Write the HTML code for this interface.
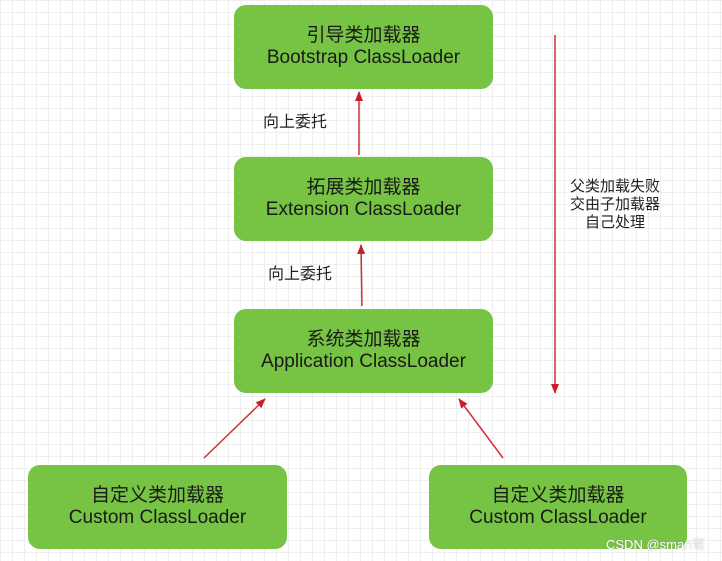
<!DOCTYPE html>
<html><head><meta charset="utf-8"><style>
body{margin:0;width:722px;height:561px;overflow:hidden;background:#fff;
background-image:linear-gradient(#eee 1px,transparent 1px),linear-gradient(90deg,#eee 1px,transparent 1px);background-size:12px 12px;
font-family:"Liberation Sans","Noto Sans CJK SC",sans-serif;position:relative}
.b{position:absolute;background:#77c343;border-radius:12px;display:flex;flex-direction:column;justify-content:center;align-items:center;font-size:19px;color:#1a1a1a;line-height:22px;text-align:center}
.t{position:absolute;font-size:16px;color:#222;line-height:18px}
</style></head><body>
<div class="b" style="left:234px;top:5px;width:259px;height:84px">引导类加载器<br>Bootstrap ClassLoader</div>
<div class="b" style="left:234px;top:157px;width:259px;height:84px">拓展类加载器<br>Extension ClassLoader</div>
<div class="b" style="left:234px;top:309px;width:259px;height:84px">系统类加载器<br>Application ClassLoader</div>
<div class="b" style="left:28px;top:465px;width:259px;height:84px">自定义类加载器<br>Custom ClassLoader</div>
<div class="b" style="left:429px;top:465px;width:258px;height:84px">自定义类加载器<br>Custom ClassLoader</div>
<div class="t" style="left:263px;top:114px">向上委托</div>
<div class="t" style="left:268px;top:266px">向上委托</div>
<div class="t" style="left:560px;top:178px;width:110px;text-align:center;font-size:15px">父类加载失败<br>交由子加载器<br>自己处理</div>
<div class="t" style="left:606px;top:536px;font-size:13px;color:#fff;text-shadow:0 0 1px #888">CSDN @smart哥</div>
<svg width="722" height="561" style="position:absolute;left:0;top:0">
<defs><marker id="a" markerWidth="10" markerHeight="10" refX="9" refY="5" orient="auto" markerUnits="userSpaceOnUse"><path d="M0,1 L10,5 L0,9z" fill="#c8202a"/></marker></defs>
<g stroke="#d0303a" stroke-width="1.5" marker-end="url(#a)">
<line x1="359" y1="155" x2="359" y2="92"/>
<line x1="362" y1="306" x2="361" y2="245"/>
<line x1="204" y1="458" x2="265" y2="399"/>
<line x1="503" y1="458" x2="459" y2="399"/>
<line x1="555" y1="35" x2="555" y2="393"/>
</g></svg>
</body></html>
